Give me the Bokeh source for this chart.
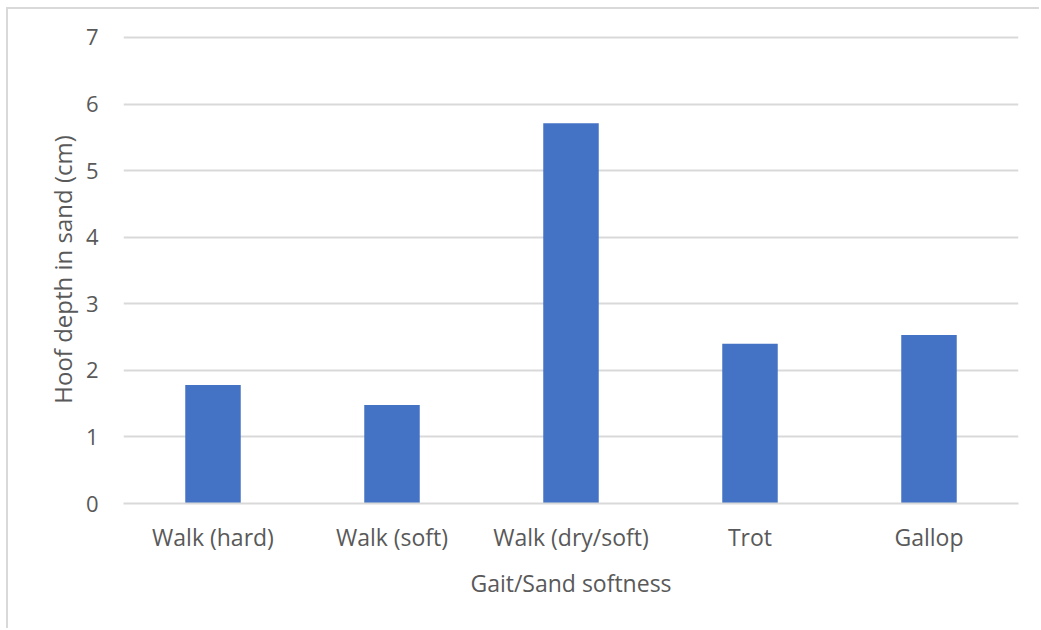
from bokeh.plotting import figure
from bokeh.models import FixedTicker, Range1d
from bokeh.embed import file_html
from bokeh.resources import INLINE

# Hoof depth per gait / sand condition
categories = ["Walk (hard)", "Walk (soft)", "Walk (dry/soft)", "Trot", "Gallop"]
depth_cm = [1.78, 1.48, 5.71, 2.40, 2.53]
y_ticks = [0, 1, 2, 3, 4, 5, 6, 7]

FONT = "Open Sans"
TEXT = "#595959"
GRID = "#d9d9d9"
BAR = "#4472C4"

# canvas sits 6px right / 7px down, inside a thin grey chart border
p = figure(
    x_range=categories,
    y_range=Range1d(0, 7.03),
    width=1033,
    height=621,
    output_backend="svg",
    toolbar_location=None,
    min_border_left=115,
    min_border_right=23,
    min_border_top=26,
    min_border_bottom=127,
    background_fill_color="white",
    border_fill_color="white",
    outline_line_color=None,
    styles={
        "margin-left": "6px",
        "margin-top": "7px",
        "border-left": "2px solid #d9d9d9",
        "border-top": "2px solid #d9d9d9",
    },
)

p.vbar(x=categories, top=depth_cm, width=0.31, fill_color=BAR, line_color=None)

# Gridlines
p.xgrid.grid_line_color = None
p.ygrid.grid_line_color = GRID
p.ygrid.grid_line_width = 2
p.ygrid.ticker = FixedTicker(ticks=y_ticks)

# Y axis
p.yaxis.ticker = FixedTicker(ticks=y_ticks)
p.yaxis.axis_line_color = None
p.yaxis.major_tick_line_color = None
p.yaxis.minor_tick_line_color = None
p.yaxis.major_label_standoff = 19
p.yaxis.major_label_text_font = FONT
p.yaxis.major_label_text_font_size = "22px"
p.yaxis.major_label_text_color = TEXT
p.yaxis.axis_label = "Hoof depth in sand (cm)"
p.yaxis.axis_label_text_font = FONT
p.yaxis.axis_label_text_font_size = "24px"
p.yaxis.axis_label_text_font_style = "normal"
p.yaxis.axis_label_text_color = TEXT
p.yaxis.axis_label_standoff = 4

# X axis
p.xaxis.axis_line_color = GRID
p.xaxis.axis_line_width = 2
p.xaxis.major_tick_line_color = None
p.xaxis.minor_tick_line_color = None
p.xaxis.major_label_standoff = 11
p.xaxis.major_label_text_font = FONT
p.xaxis.major_label_text_font_size = "23px"
p.xaxis.major_label_text_color = TEXT
p.xaxis.axis_label = "Gait/Sand softness"
p.xaxis.axis_label_text_font = FONT
p.xaxis.axis_label_text_font_size = "23px"
p.xaxis.axis_label_text_font_style = "normal"
p.xaxis.axis_label_text_color = TEXT
p.xaxis.axis_label_standoff = 11

open("out.html", "w").write(file_html(p, INLINE))
